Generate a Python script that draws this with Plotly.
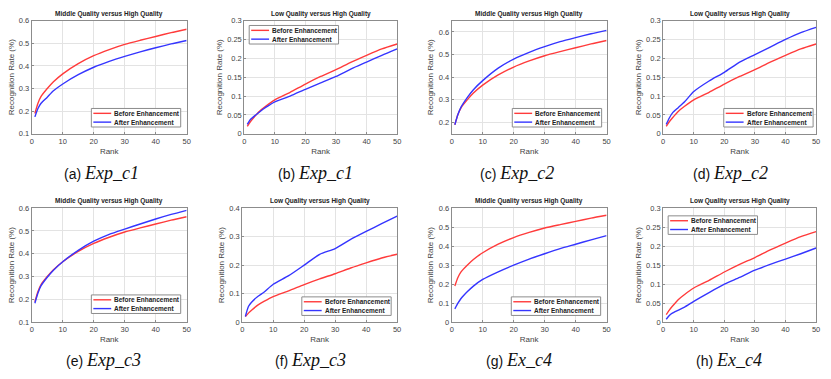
import plotly.graph_objects as go

# ---------------------------------------------------------------------------
# Data
# ---------------------------------------------------------------------------
RANKS = [1, 2, 3, 5, 7, 10, 15, 20, 25, 30, 35, 40, 45, 50]

# baseline curves ("Before Enhancement") are the same in every experiment
MID_BEFORE = [0.19, 0.235, 0.265, 0.30, 0.33, 0.365, 0.41, 0.445, 0.472, 0.495, 0.513, 0.530, 0.547, 0.562]
LOW_BEFORE = [0.02, 0.032, 0.042, 0.06, 0.073, 0.09, 0.11, 0.132, 0.152, 0.17, 0.19, 0.208, 0.225, 0.238]

AFTER_C1_MID = [0.175, 0.212, 0.235, 0.262, 0.29, 0.32, 0.361, 0.394, 0.42, 0.442, 0.462, 0.48, 0.497, 0.512]
AFTER_C1_LOW = [0.025, 0.038, 0.045, 0.058, 0.07, 0.085, 0.1, 0.118, 0.135, 0.152, 0.172, 0.19, 0.208, 0.225]
AFTER_C2_MID = [0.19, 0.235, 0.268, 0.31, 0.345, 0.385, 0.44, 0.48, 0.51, 0.535, 0.557, 0.575, 0.592, 0.607]
AFTER_C2_LOW = [0.025, 0.042, 0.055, 0.07, 0.085, 0.112, 0.14, 0.163, 0.19, 0.21, 0.23, 0.25, 0.268, 0.282]
AFTER_C3_MID = [0.183, 0.228, 0.26, 0.297, 0.328, 0.365, 0.415, 0.455, 0.485, 0.508, 0.53, 0.552, 0.572, 0.59]
AFTER_C3_LOW = [0.02, 0.055, 0.07, 0.09, 0.105, 0.133, 0.163, 0.2, 0.238, 0.258, 0.29, 0.318, 0.345, 0.372]
AFTER_C4_MID = [0.07, 0.1, 0.125, 0.16, 0.19, 0.225, 0.265, 0.3, 0.332, 0.36, 0.387, 0.41, 0.433, 0.455]
AFTER_C4_LOW = [0.008, 0.018, 0.024, 0.032, 0.04, 0.055, 0.078, 0.1, 0.118, 0.137, 0.152, 0.166, 0.18, 0.195]

SERIES_NAMES = ['Before Enhancement', 'After Enhancement']
TITLES = ['Middle Quality versus High Quality', 'Low Quality versus High Quality'] * 4
LETTERS = ['(a)', '(b)', '(c)', '(d)', '(e)', '(f)', '(g)', '(h)']
EXPS = ['Exp_c1', 'Exp_c1', 'Exp_c2', 'Exp_c2', 'Exp_c3', 'Exp_c3', 'Ex_c4', 'Ex_c4']
BEFORE = [MID_BEFORE, LOW_BEFORE] * 4
AFTER = [AFTER_C1_MID, AFTER_C1_LOW, AFTER_C2_MID, AFTER_C2_LOW,
         AFTER_C3_MID, AFTER_C3_LOW, AFTER_C4_MID, AFTER_C4_LOW]

# ---------------------------------------------------------------------------
# Layout
# ---------------------------------------------------------------------------
W, H = 831, 379
RED = '#ff3b3b'
BLUE = '#3535ff'
FONT = 'Liberation Sans, Arial, sans-serif'
BORDER = '#8c8c8c'

# plot boxes in pixels: (left, right, top, bottom)
BOXES = [
    (30, 186, 17, 133), (244, 398, 17, 133), (453, 609, 17, 133), (666, 820, 17, 133),
    (30, 186, 209, 326), (242, 398, 209, 326), (453, 609, 209, 326), (666, 820, 209, 326),
]
Y_RANGES = [(0.1, 0.6), (0, 0.3), (0.15, 0.65), (0, 0.3),
            (0.1, 0.6), (0, 0.4), (0, 0.6), (0, 0.3)]
Y_DTICK = [0.1, 0.05, 0.1, 0.05, 0.1, 0.1, 0.1, 0.05]
# legend box top-left corner in pixels (drawn by hand, MATLAB style)
LEG_POS = [(90, 107), (249, 22), (514, 107), (727, 107),
           (90, 298), (302, 300), (513, 300), (671, 217)]
LEG_W, LEG_H = 90, 19
CAPTION_X = [100, 316, 519, 734, 102, 311, 521, 732]


def px(x):
    return x / W


def py(y):
    return 1 - y / H


fig = go.Figure()
layout = {}
annotations = []
shapes = []

for i in range(8):
    n = '' if i == 0 else str(i + 1)
    left, right, top, bottom = BOXES[i]

    for vals, color, name in ((BEFORE[i], RED, SERIES_NAMES[0]), (AFTER[i], BLUE, SERIES_NAMES[1])):
        fig.add_trace(go.Scatter(
            x=RANKS, y=vals, mode='lines', name=name, showlegend=False,
            line=dict(color=color, width=1.4, shape='spline', smoothing=0.6),
            xaxis='x' + n, yaxis='y' + n,
        ))

    axis_common = dict(
        showgrid=True, gridcolor='#e3e3e3', gridwidth=1,
        showline=True, linecolor=BORDER, linewidth=1, mirror=True,
        ticks='inside', ticklen=2, tickcolor=BORDER,
        tickfont=dict(size=7.5, color='#444', family=FONT),
        zeroline=False,
    )
    layout['xaxis' + n] = dict(
        axis_common, domain=[px(left), px(right)], anchor='y' + n,
        range=[0, 50], dtick=10, tick0=0,
        title=dict(text='Rank', font=dict(size=8, color='#444', family=FONT), standoff=3),
    )
    layout['yaxis' + n] = dict(
        axis_common, domain=[py(bottom), py(top)], anchor='x' + n,
        range=list(Y_RANGES[i]), dtick=Y_DTICK[i], tick0=0,
        title=dict(text='Recognition Rate (%)',
                   font=dict(size=8, color='#444', family=FONT), standoff=3),
    )

    # hand-made legend box
    lx, ly = LEG_POS[i]
    shapes.append(dict(
        type='rect', xref='paper', yref='paper',
        x0=px(lx), x1=px(lx + LEG_W), y0=py(ly + LEG_H), y1=py(ly),
        line=dict(color=BORDER, width=1), fillcolor='white', layer='above',
    ))
    for k, color in enumerate((RED, BLUE)):
        yy = ly + 5 + k * 9
        shapes.append(dict(
            type='line', xref='paper', yref='paper',
            x0=px(lx + 2), x1=px(lx + 20), y0=py(yy), y1=py(yy),
            line=dict(color=color, width=1.4), layer='above',
        ))
        annotations.append(dict(
            text='<b>' + SERIES_NAMES[k] + '</b>', x=px(lx + 21), y=py(yy),
            xref='paper', yref='paper', xanchor='left', yanchor='middle',
            showarrow=False, font=dict(size=6.5, color='#222', family=FONT),
        ))

    annotations.append(dict(
        text='<b>' + TITLES[i] + '</b>', x=px((left + right) / 2), y=py(top - 1),
        xref='paper', yref='paper', xanchor='center', yanchor='bottom',
        showarrow=False, font=dict(size=6.5, color='#222', family=FONT),
    ))
    annotations.append(dict(
        text=LETTERS[i] + ' <span style="font-family:Liberation Serif, serif;font-size:18px">'
             '<i>' + EXPS[i] + '</i></span>',
        x=px(CAPTION_X[i]), y=py(173 if i < 4 else 365),
        xref='paper', yref='paper', xanchor='center', yanchor='middle',
        showarrow=False, font=dict(size=14, color='#111', family=FONT),
    ))

fig.update_layout(
    width=W, height=H,
    margin=dict(l=0, r=0, t=0, b=0),
    paper_bgcolor='white', plot_bgcolor='white',
    showlegend=False,
    annotations=annotations,
    shapes=shapes,
    **layout,
)

# browsers add an 8px body margin; drop it so the figure sits at (0, 0)
fig.write_html(
    'out.html',
    config={'displayModeBar': False},
    post_script="document.body.style.margin='0';",
)
